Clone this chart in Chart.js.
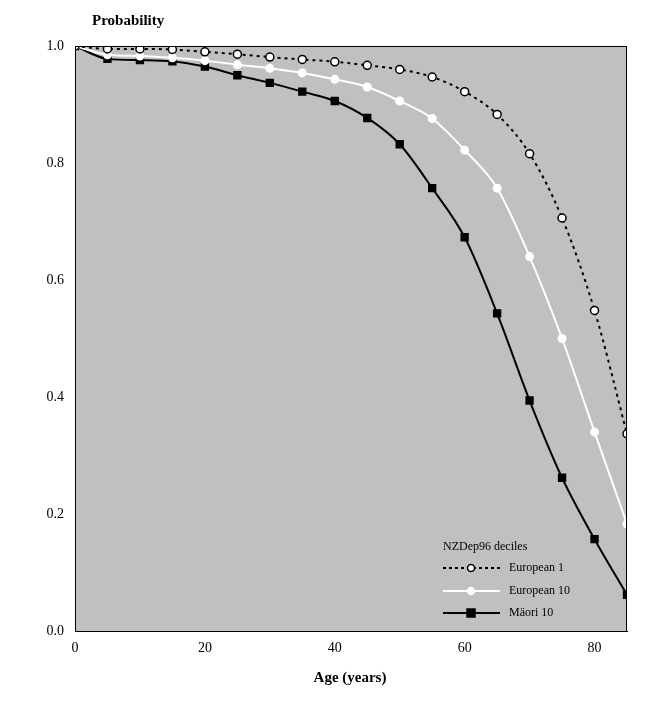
<!DOCTYPE html>
<html><head><meta charset="utf-8">
<script src="https://cdn.jsdelivr.net/npm/chart.js@4"></script>
<style>html,body{margin:0;padding:0;background:#fff}#c{display:block}</style>
</head><body>
<div style="width:650px;height:701px;position:relative"><canvas id="c"></canvas></div>
<script>
const ages=[0,5,10,15,20,25,30,35,40,45,50,55,60,65,70,75,80,85];
const european1=[1.0,0.995,0.995,0.994,0.99,0.986,0.981,0.977,0.973,0.967,0.96,0.947,0.922,0.883,0.816,0.706,0.548,0.337];
const european10=[1.0,0.985,0.983,0.98,0.975,0.968,0.962,0.954,0.943,0.93,0.906,0.876,0.822,0.757,0.64,0.5,0.34,0.183];
const maori10=[1.0,0.978,0.976,0.974,0.965,0.95,0.937,0.922,0.906,0.877,0.832,0.757,0.673,0.543,0.394,0.262,0.157,0.062];
const seriesNames=['European 1','European 10','Mäori 10'];
const legendTitle='NZDep96 deciles';
const pts=a=>a.map((v,i)=>({x:ages[i],y:v}));
const F='"Liberation Serif", serif';
const bg={id:'bg',beforeDraw(c){const a=c.chartArea,x=c.ctx;x.save();x.fillStyle='#c0c0c0';x.fillRect(a.left,a.top,a.right-a.left,a.bottom-a.top);x.restore();},
afterDraw(c){const a=c.chartArea,x=c.ctx;x.save();x.strokeStyle='#000';x.lineWidth=1;x.strokeRect(a.left+0.5,a.top+0.5,a.right-a.left-1,a.bottom-a.top);
x.fillStyle='#000';x.font='bold 15px '+F;x.textBaseline='middle';x.fillText('Probability',92,21);
x.textAlign='center';x.fillText('Age (years)',350,678);
x.textAlign='left';x.font='12px '+F;x.fillText(legendTitle,443,547);
const rows=[[seriesNames[0],568,'#000',[3,3],'circle','#fff','#000'],[seriesNames[1],591,'#fff',[],'circle','#fff','#fff'],[seriesNames[2],613,'#000',[],'rect','#000','#000']];
rows.forEach(r=>{x.strokeStyle=r[2];x.lineWidth=2;x.setLineDash(r[3]);x.beginPath();x.moveTo(443,r[1]);x.lineTo(500,r[1]);x.stroke();x.setLineDash([]);
x.fillStyle=r[5];x.strokeStyle=r[6];x.lineWidth=1.5;x.beginPath();if(r[4]==='circle'){x.arc(471,r[1],3.5,0,7);}else{x.rect(467,r[1]-4,8,8);}x.fill();x.stroke();
x.fillStyle='#000';x.fillText(r[0],509,r[1]);});
x.restore();}};
new Chart(document.getElementById('c'),{type:'line',
data:{datasets:[
{data:pts(european1),borderColor:'#000',borderWidth:2,borderDash:[3,4],pointStyle:'circle',pointRadius:4,pointBackgroundColor:'#fff',pointBorderColor:'#000',pointBorderWidth:1.5,tension:0.3,cubicInterpolationMode:'monotone'},
{data:pts(european10),borderColor:'#fff',borderWidth:2,pointStyle:'circle',pointRadius:3.5,pointBackgroundColor:'#fff',pointBorderColor:'#fff',tension:0.3,cubicInterpolationMode:'monotone'},
{data:pts(maori10),borderColor:'#000',borderWidth:2,pointStyle:'rect',pointRadius:4.5,pointBackgroundColor:'#000',pointBorderColor:'#000',tension:0.3,cubicInterpolationMode:'monotone'}]},
options:{responsive:true,maintainAspectRatio:false,animation:false,
layout:{padding:{left:0,right:23,top:46,bottom:0}},
plugins:{legend:{display:false},tooltip:{enabled:false}},
scales:{x:{type:'linear',min:0,max:85,afterFit(s){s.height=70},afterBuildTicks(s){s.ticks=[0,20,40,60,80].map(v=>({value:v}))},
grid:{display:false,drawTicks:true,tickLength:5,tickColor:'#000'},border:{color:'#000'},ticks:{color:'#000',font:{family:F,size:14},padding:4}},
y:{min:0,max:1,afterFit(s){s.width=75},ticks:{stepSize:0.2,color:'#000',font:{family:F,size:14},callback:v=>v.toFixed(1),padding:6},
grid:{display:false,drawTicks:true,tickLength:5,tickColor:'#000'},border:{color:'#000'}}}},
plugins:[bg]});
</script></body></html>
